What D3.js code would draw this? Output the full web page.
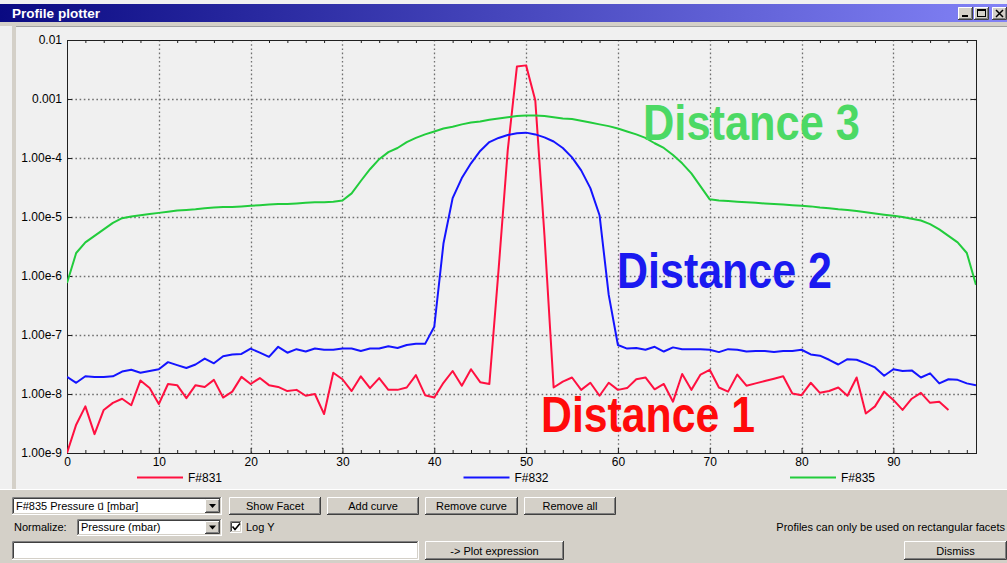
<!DOCTYPE html>
<html>
<head>
<meta charset="utf-8">
<script src="https://cdn.jsdelivr.net/npm/d3@7"></script>
<style>
  html, body { margin: 0; padding: 0; background: #f0f0f0; overflow: hidden; }
  svg { display: block; }
  text { font-family: "Liberation Sans", Arial, sans-serif; }
</style>
</head>
<body>
<svg id="win" width="1007" height="563"></svg>
<script>
// Profile samples along the facet (position index 0..99)
const positions = d3.range(0, 100);

// log10 of pressure [mbar] for each profile
const f831 = [
  -9.00, -8.52, -8.21, -8.68, -8.27, -8.15, -8.08, -8.19, -7.77, -7.90,
  -8.17, -7.83, -7.85, -8.07, -7.85, -7.88, -7.76, -8.06, -7.96, -7.71,
  -7.83, -7.73, -7.85, -7.88, -7.95, -7.93, -8.03, -8.00, -8.34, -7.64,
  -7.75, -7.95, -7.70, -7.90, -7.73, -7.93, -7.93, -7.89, -7.68, -8.02,
  -8.06, -7.81, -7.61, -7.86, -7.58, -7.80, -7.83, -5.90, -3.87, -2.45,
  -2.43, -3.02, -5.31, -7.89, -7.79, -7.72, -7.93, -7.81, -8.03, -7.81,
  -7.93, -7.90, -7.75, -7.72, -7.92, -7.83, -8.13, -7.66, -7.93, -7.67,
  -7.59, -7.89, -7.96, -7.67, -7.86, -7.82, -7.78, -7.74, -7.70, -7.99,
  -8.02, -7.81, -7.98, -7.95, -7.89, -8.03, -7.72, -8.33, -8.21, -7.96,
  -8.10, -8.27, -8.08, -7.98, -8.15, -8.13, -8.27
];
const f832 = [
  -7.71, -7.81, -7.70, -7.71, -7.71, -7.70, -7.62, -7.59, -7.64, -7.61,
  -7.58, -7.46, -7.51, -7.56, -7.50, -7.40, -7.48, -7.36, -7.33, -7.32,
  -7.23, -7.30, -7.37, -7.20, -7.30, -7.24, -7.28, -7.23, -7.25, -7.25,
  -7.23, -7.23, -7.27, -7.23, -7.23, -7.19, -7.22, -7.17, -7.15, -7.15,
  -6.86, -5.45, -4.68, -4.34, -4.09, -3.88, -3.73, -3.66, -3.61, -3.58,
  -3.57, -3.60, -3.65, -3.72, -3.83, -3.99, -4.21, -4.51, -4.97, -6.32,
  -7.17, -7.23, -7.22, -7.25, -7.20, -7.28, -7.21, -7.24, -7.24, -7.24,
  -7.25, -7.29, -7.24, -7.25, -7.28, -7.27, -7.27, -7.29, -7.27, -7.27,
  -7.25, -7.33, -7.35, -7.42, -7.50, -7.41, -7.42, -7.48, -7.55, -7.69,
  -7.58, -7.61, -7.60, -7.72, -7.65, -7.82, -7.75, -7.76, -7.82, -7.85
];
const f835 = [
  -6.12, -5.61, -5.43, -5.32, -5.21, -5.10, -5.02, -4.99, -4.97, -4.95,
  -4.93, -4.91, -4.89, -4.88, -4.87, -4.85, -4.84, -4.83, -4.83, -4.82,
  -4.81, -4.80, -4.79, -4.78, -4.78, -4.77, -4.76, -4.75, -4.75, -4.74,
  -4.72, -4.60, -4.39, -4.19, -4.02, -3.90, -3.83, -3.73, -3.66, -3.60,
  -3.55, -3.50, -3.47, -3.43, -3.40, -3.38, -3.35, -3.33, -3.31, -3.29,
  -3.28, -3.28, -3.29, -3.31, -3.33, -3.34, -3.37, -3.40, -3.43, -3.46,
  -3.50, -3.55, -3.60, -3.66, -3.75, -3.83, -3.95, -4.09, -4.26, -4.48,
  -4.70, -4.72, -4.73, -4.74, -4.75, -4.76, -4.77, -4.78, -4.79, -4.80,
  -4.81, -4.82, -4.84, -4.85, -4.87, -4.88, -4.90, -4.92, -4.94, -4.96,
  -4.98, -5.00, -5.03, -5.06, -5.12, -5.21, -5.32, -5.43, -5.61, -6.15
];

const seriesNames = ["F#831", "F#832", "F#835"];
const seriesColors = ["#ff1040", "#1414ff", "#22cc3c"];

const yTickValues = [1e-2, 1e-3, 1e-4, 1e-5, 1e-6, 1e-7, 1e-8, 1e-9];
const yTickLabels = ["0.01", "0.001", "1.00e-4", "1.00e-5", "1.00e-6", "1.00e-7", "1.00e-8", "1.00e-9"];
const xTickValues = [0, 10, 20, 30, 40, 50, 60, 70, 80, 90];
const xMinorTicks = d3.range(2, 99, 2).filter(v => v % 10 !== 0);

const notes = ["Distance 3", "Distance 2", "Distance 1"];
const noteColors = ["#4cd964", "#1a1af0", "#ff0a0a"];

const W = 1007, H = 563;
const svg = d3.select("#win");

// ---------- window chrome ----------
const defs = svg.append("defs");
const cap = defs.append("linearGradient").attr("id", "caption")
  .attr("x1", 0).attr("x2", 1).attr("y1", 0).attr("y2", 0);
cap.append("stop").attr("offset", 0).attr("stop-color", "#0a0a82");
cap.append("stop").attr("offset", 1).attr("stop-color", "#8282f6");

svg.append("rect").attr("width", W).attr("height", H).attr("fill", "#f0f0f0");
svg.append("rect").attr("x", 0).attr("y", 4).attr("width", W).attr("height", 18).attr("fill", "url(#caption)");
svg.append("text").attr("x", 12).attr("y", 17.5).attr("fill", "#fff")
  .attr("font-weight", "bold").attr("font-size", 12.5)
  .attr("textLength", 88).attr("lengthAdjust", "spacingAndGlyphs")
  .text("Profile plotter");

// beige frame around the plot panel
svg.append("rect").attr("x", 0).attr("y", 22).attr("width", W).attr("height", 4).attr("fill", "#d4d0c8");
svg.append("rect").attr("x", 12).attr("y", 22).attr("width", 4).attr("height", 467).attr("fill", "#d4d0c8");
svg.append("line").attr("x1", 16).attr("x2", W).attr("y1", 26.5).attr("y2", 26.5).attr("stroke", "#a0a0a0");
svg.append("rect").attr("x", 0).attr("y", 489).attr("width", W).attr("height", H - 489).attr("fill", "#d4d0c8");
svg.append("line").attr("x1", 0).attr("x2", W).attr("y1", 489.5).attr("y2", 489.5).attr("stroke", "#ffffff");

// bevel helpers for classic widgets
function raised(g, x, y, w, h) {
  g.append("rect").attr("x", x).attr("y", y).attr("width", w).attr("height", h).attr("fill", "#d4d0c8");
  g.append("path").attr("d", `M${x + 0.5},${y + h - 1}V${y + 0.5}H${x + w - 1}`).attr("stroke", "#ffffff").attr("fill", "none");
  g.append("path").attr("d", `M${x},${y + h - 0.5}H${x + w - 0.5}V${y}`).attr("stroke", "#404040").attr("fill", "none");
  g.append("path").attr("d", `M${x + 1},${y + h - 1.5}H${x + w - 1.5}V${y + 1}`).attr("stroke", "#808080").attr("fill", "none");
}
function sunken(g, x, y, w, h) {
  g.append("rect").attr("x", x).attr("y", y).attr("width", w).attr("height", h).attr("fill", "#ffffff");
  g.append("path").attr("d", `M${x + 0.5},${y + h - 1}V${y + 0.5}H${x + w - 1}`).attr("stroke", "#808080").attr("fill", "none");
  g.append("path").attr("d", `M${x + 1.5},${y + h - 2}V${y + 1.5}H${x + w - 2}`).attr("stroke", "#404040").attr("fill", "none");
  g.append("path").attr("d", `M${x},${y + h - 0.5}H${x + w - 0.5}V${y}`).attr("stroke", "#ffffff").attr("fill", "none");
  g.append("path").attr("d", `M${x + 1},${y + h - 1.5}H${x + w - 1.5}V${y + 1}`).attr("stroke", "#d4d0c8").attr("fill", "none");
}
function label(g, x, y, txt, anchor) {
  return g.append("text").attr("x", x).attr("y", y).attr("font-size", 11)
    .attr("text-anchor", anchor || "start").attr("fill", "#000").text(txt);
}
function button(g, x, y, w, h, txt) {
  raised(g, x, y, w, h);
  label(g, x + w / 2, y + h / 2 + 4, txt, "middle");
}
function comboBox(g, x, y, w, h) {
  sunken(g, x, y, w, h);
  const bx = x + w - 17, by = y + 2, bw = 15, bh = h - 4;
  raised(g, bx, by, bw, bh);
  const cx = bx + bw / 2, cy = by + bh / 2;
  g.append("path").attr("d", `M${cx - 3.5},${cy - 2}H${cx + 3.5}L${cx},${cy + 2}Z`).attr("fill", "#000");
}

// caption buttons
const capG = svg.append("g");
[[958, "min"], [974, "max"], [992, "close"]].forEach(([bx, kind]) => {
  raised(capG, bx, 7, 15, 13);
  if (kind === "min") capG.append("rect").attr("x", bx + 4).attr("y", 15).attr("width", 6).attr("height", 2).attr("fill", "#000");
  if (kind === "max") {
    capG.append("rect").attr("x", bx + 3.5).attr("y", 9.5).attr("width", 8).attr("height", 7)
      .attr("fill", "none").attr("stroke", "#000");
    capG.append("line").attr("x1", bx + 3.5).attr("x2", bx + 11.5).attr("y1", 10.5).attr("y2", 10.5).attr("stroke", "#000");
  }
  if (kind === "close") capG.append("path").attr("d", `M${bx + 4},10L${bx + 11},17M${bx + 11},10L${bx + 4},17`)
    .attr("stroke", "#000").attr("stroke-width", 1.5);
});

// ---------- plot ----------
const plotL = 67, plotR = 976, plotT = 40, plotB = 453;
const x = d3.scaleLinear().domain([0, 99]).range([plotL, plotR]);
const y = d3.scaleLog().domain([1e-9, 1e-2]).range([plotB, plotT]);

const plot = svg.append("g");

// dotted grid
plot.append("g").selectAll("line").data(yTickValues.slice(1, -1)).join("line")
  .attr("x1", plotL).attr("x2", plotR)
  .attr("y1", d => Math.round(y(d)) + 0.5).attr("y2", d => Math.round(y(d)) + 0.5)
  .attr("stroke", "#707070").attr("stroke-width", 1.3).attr("stroke-dasharray", "1.6,2.6");
plot.append("g").selectAll("line").data(xTickValues.slice(1)).join("line")
  .attr("x1", d => Math.round(x(d)) + 0.5).attr("x2", d => Math.round(x(d)) + 0.5)
  .attr("y1", plotT).attr("y2", plotB)
  .attr("stroke", "#707070").attr("stroke-width", 1.3).attr("stroke-dasharray", "1.6,2.6");

// axes with inward ticks
const yAxis = d3.axisLeft(y).tickValues(yTickValues)
  .tickFormat((d, i) => yTickLabels[i]).tickSizeInner(-5).tickSizeOuter(0).tickPadding(5);
const yAx = plot.append("g").attr("transform", `translate(${plotL},0)`).call(yAxis);
yAx.selectAll("text").attr("font-size", 12).attr("fill", "#000")
  .attr("font-family", "'Liberation Sans', Arial, sans-serif");

const yAxisR = d3.axisRight(y).tickValues(yTickValues).tickFormat("").tickSizeInner(-5).tickSizeOuter(0);
plot.append("g").attr("transform", `translate(${plotR},0)`).call(yAxisR);

const xAxis = d3.axisBottom(x).tickValues(xTickValues).tickFormat(d3.format("d"))
  .tickSizeInner(-5).tickSizeOuter(0).tickPadding(4);
const xAx = plot.append("g").attr("transform", `translate(0,${plotB})`).call(xAxis);
xAx.selectAll("text").attr("font-size", 12).attr("fill", "#000")
  .attr("font-family", "'Liberation Sans', Arial, sans-serif");

plot.append("g").attr("transform", `translate(0,${plotB})`)
  .call(d3.axisBottom(x).tickValues(xMinorTicks).tickFormat("").tickSizeInner(-3).tickSizeOuter(0));
plot.append("g").attr("transform", `translate(0,${plotT})`)
  .call(d3.axisTop(x).tickValues(xMinorTicks).tickFormat("").tickSizeInner(-3).tickSizeOuter(0));

plot.selectAll(".domain").attr("stroke", "#202020");
plot.selectAll(".tick line").attr("stroke", "#202020");

// frame
plot.append("rect").attr("x", plotL + 0.5).attr("y", plotT + 0.5)
  .attr("width", plotR - plotL).attr("height", plotB - plotT)
  .attr("fill", "none").attr("stroke", "#202020");

// curves
defs.append("clipPath").attr("id", "plotclip").append("rect")
  .attr("x", plotL).attr("y", plotT - 2).attr("width", plotR - plotL).attr("height", plotB - plotT + 3);
const line = d3.line().x((d, i) => x(positions[i])).y(d => y(Math.pow(10, d)));
const curves = plot.append("g").attr("clip-path", "url(#plotclip)");
[f831, f832, f835].forEach((s, k) => {
  curves.append("path").attr("d", line(s)).attr("fill", "none")
    .attr("stroke", seriesColors[k]).attr("stroke-width", 2).attr("stroke-linejoin", "round");
});

// legend below the axis
const lx = d3.scalePoint().domain(seriesNames).range([137, 790]);
const leg = plot.append("g");
seriesNames.forEach((n, k) => {
  leg.append("line").attr("x1", lx(n)).attr("x2", lx(n) + 46).attr("y1", 477.5).attr("y2", 477.5)
    .attr("stroke", seriesColors[k]).attr("stroke-width", 2);
  leg.append("text").attr("x", lx(n) + 51).attr("y", 482).attr("font-size", 12).attr("fill", "#000").text(n);
});

// large annotations
const notePos = [[643, 140, 217], [617, 288, 215], [541, 432, 214]];
notes.forEach((t, k) => {
  svg.append("text").attr("x", notePos[k][0]).attr("y", notePos[k][1])
    .attr("font-family", "Lato, 'Open Sans', sans-serif").attr("font-weight", "bold")
    .attr("font-size", 50).attr("fill", noteColors[k])
    .attr("textLength", notePos[k][2]).attr("lengthAdjust", "spacingAndGlyphs")
    .text(t);
});

// ---------- controls ----------
const ctl = svg.append("g");
comboBox(ctl, 12, 497, 210, 18);
const qty = label(ctl, 16, 510, "F#835 Pressure ");
qty.append("tspan").attr("font-family", "'DejaVu Sans', sans-serif").attr("font-size", 10.5).text("u\u20D7");
qty.append("tspan").text(" [mbar]");
button(ctl, 229, 497, 92, 18, "Show Facet");
button(ctl, 327, 497, 92, 18, "Add curve");
button(ctl, 425, 497, 93, 18, "Remove curve");
button(ctl, 524, 497, 92, 18, "Remove all");

label(ctl, 14, 531, "Normalize:");
comboBox(ctl, 77, 519, 145, 17);
label(ctl, 81, 531, "Pressure (mbar)");
sunken(ctl, 230, 521, 12, 12);
ctl.append("path").attr("d", "M232.5,526.5L235,529.5L240,523.5").attr("stroke", "#000")
  .attr("stroke-width", 1.6).attr("fill", "none");
label(ctl, 246, 531, "Log Y");
label(ctl, 1005, 531, "Profiles can only be used on rectangular facets", "end");

sunken(ctl, 12, 541, 407, 19);
button(ctl, 425, 541, 139, 19, "-> Plot expression");
button(ctl, 904, 541, 103, 19, "Dismiss");
</script>
</body>
</html>
